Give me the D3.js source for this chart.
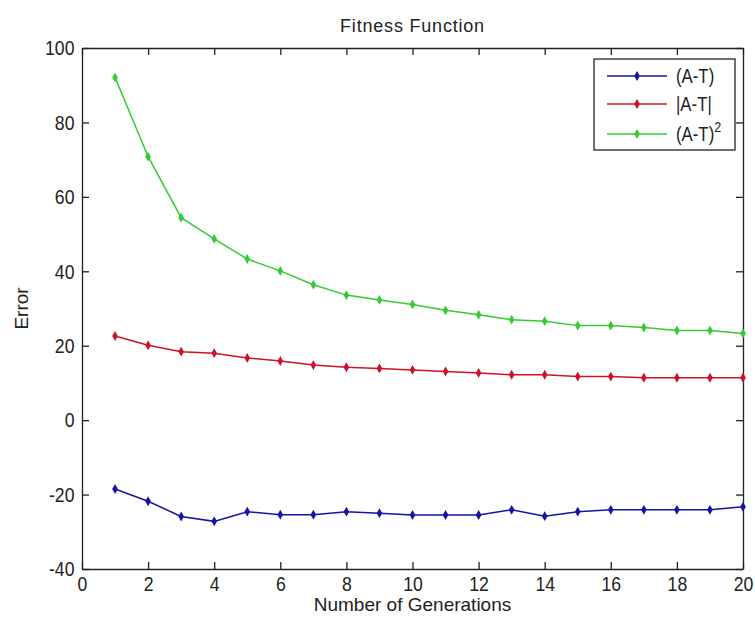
<!DOCTYPE html>
<html>
<head>
<meta charset="utf-8">
<script src="https://cdn.jsdelivr.net/npm/d3@7"></script>
<style>
  body { margin: 0; background: #fff; }
  text { font-family: "Liberation Sans", Arial, sans-serif; fill: #222; }
</style>
</head>
<body>
<svg id="chart" width="755" height="619"></svg>
<script>
// generations 1..20
const generations = d3.range(1, 21);

// error values
const signedErr = [-18.5, -21.8, -25.9, -27.2, -24.6, -25.4, -25.4, -24.6, -25.0, -25.5,
                   -25.5, -25.5, -24.1, -25.8, -24.6, -24.1, -24.1, -24.1, -24.1, -23.3];
const absErr = [22.6, 20.1, 18.4, 18.0, 16.7, 15.9, 14.8, 14.2, 13.9, 13.5,
                13.1, 12.7, 12.2, 12.2, 11.7, 11.7, 11.4, 11.4, 11.4, 11.4];
const sqErr = [92.1, 70.8, 54.4, 48.7, 43.3, 40.1, 36.4, 33.6, 32.3, 31.1,
               29.5, 28.3, 27.0, 26.6, 25.4, 25.4, 24.9, 24.1, 24.1, 23.3];

const xTicks = d3.range(0, 21, 2);
const yTicks = d3.range(-40, 101, 20);

const series = [
  { name: "(A-T)", sup: null, values: signedErr, color: "#1414a8" },
  { name: "|A-T|", sup: null, values: absErr, color: "#cc1426" },
  { name: "(A-T)", sup: "2", values: sqErr, color: "#33cc33" }
];

const width = 755, height = 619;
const margin = { top: 48, right: 12, bottom: 50, left: 82 };
const narrow = 0.84; // squeeze text horizontally, the original font is condensed

const svg = d3.select("#chart");

const x = d3.scaleLinear().domain([0, 20]).range([margin.left, width - margin.right]);
const y = d3.scaleLinear().domain([-40, 100]).range([height - margin.bottom, margin.top]);

const tick = 7;
const fmt = d => String(d); // plain hyphen, like the original

// axes, ticks pointing inward on all four sides
svg.append("g")
  .attr("transform", `translate(0,${height - margin.bottom})`)
  .call(d3.axisBottom(x).tickValues(xTicks).tickFormat(fmt).tickSizeInner(-tick).tickSizeOuter(0).tickPadding(7))
  .call(g => g.selectAll("text").style("font-size", "21px").attr("transform", `scale(${narrow},1)`));

svg.append("g")
  .attr("transform", `translate(0,${margin.top})`)
  .call(d3.axisTop(x).tickValues(xTicks).tickSizeInner(-tick).tickSizeOuter(0).tickFormat(""));

svg.append("g")
  .attr("transform", `translate(${margin.left},0)`)
  .call(d3.axisLeft(y).tickValues(yTicks).tickFormat(fmt).tickSizeInner(-tick).tickSizeOuter(0).tickPadding(9))
  .call(g => g.selectAll("text").style("font-size", "21px").attr("transform", `scale(${narrow},1)`));

svg.append("g")
  .attr("transform", `translate(${width - margin.right},0)`)
  .call(d3.axisRight(y).tickValues(yTicks).tickSizeInner(-tick).tickSizeOuter(0).tickFormat(""));

svg.selectAll(".domain, .tick line").attr("stroke", "#222").attr("stroke-width", 1.3);

// lines + markers
const line = d3.line().x((d, i) => x(generations[i])).y(d => y(d));
const diamond = d3.symbol().type(d3.symbolDiamond).size(28);

series.forEach(s => {
  svg.append("path")
    .datum(s.values)
    .attr("fill", "none")
    .attr("stroke", s.color)
    .attr("stroke-width", 1.5)
    .attr("d", line);
  svg.append("g")
    .selectAll("path")
    .data(s.values)
    .join("path")
    .attr("transform", (d, i) => `translate(${x(generations[i])},${y(d)})`)
    .attr("d", diamond)
    .attr("fill", s.color);
});

// title and axis labels
svg.append("text")
  .attr("x", (margin.left + width - margin.right) / 2)
  .attr("y", 32)
  .attr("text-anchor", "middle")
  .style("font-size", "18px")
  .style("letter-spacing", "0.8px")
  .text("Fitness Function");

svg.append("text")
  .attr("x", (margin.left + width - margin.right) / 2)
  .attr("y", 611)
  .attr("text-anchor", "middle")
  .style("font-size", "19px")
  .text("Number of Generations");

svg.append("text")
  .attr("transform", `translate(28,${(margin.top + height - margin.bottom) / 2}) rotate(-90)`)
  .attr("text-anchor", "middle")
  .style("font-size", "19px")
  .text("Error");

// legend
const legend = svg.append("g");
legend.append("rect")
  .attr("x", 594).attr("y", 59)
  .attr("width", 141).attr("height", 91)
  .attr("fill", "#fff")
  .attr("stroke", "#222")
  .attr("stroke-width", 1.3);

const rowY = [76, 104, 134];
series.forEach((s, i) => {
  const g = legend.append("g").attr("transform", `translate(0,${rowY[i]})`);
  g.append("line")
    .attr("x1", 607).attr("x2", 667)
    .attr("stroke", s.color).attr("stroke-width", 1.5);
  g.append("path")
    .attr("transform", "translate(637,0)")
    .attr("d", diamond)
    .attr("fill", s.color);
  const t = g.append("text")
    .attr("transform", `translate(676,7) scale(${narrow},1)`)
    .style("font-size", "20px")
    .text(s.name);
  if (s.sup) {
    t.append("tspan").attr("dy", -9).style("font-size", "15px").text(s.sup);
  }
});
</script>
</body>
</html>
